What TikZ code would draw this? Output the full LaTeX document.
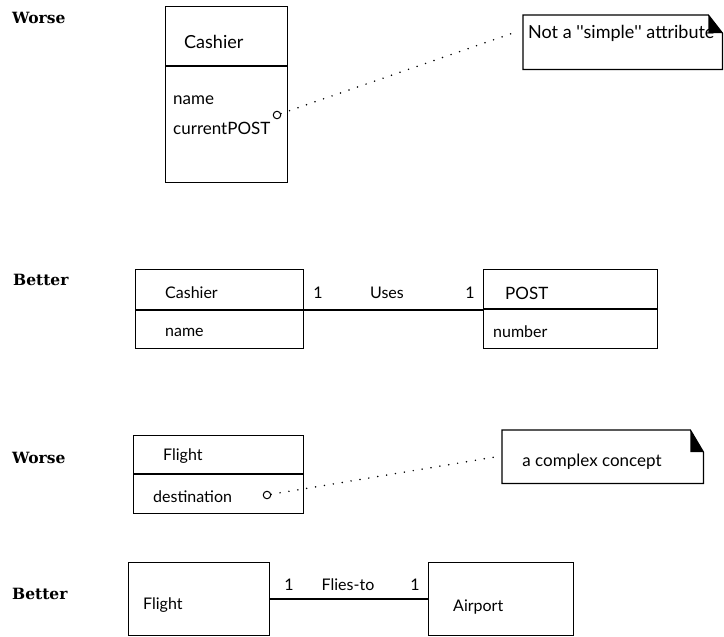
\documentclass[tikz,border=0pt]{standalone}
\usepackage{fontspec}
\setmainfont{Lato}
\newfontfamily\rawlato{Lato}[Ligatures=TeXOff]
\newfontfamily\lblfont{DejaVu Serif}
\usetikzlibrary{calc}
\begin{document}
\begin{tikzpicture}[x=1pt,y=-1pt,
  box/.style={draw, line width=1.2pt, inner sep=0pt, rectangle},
  divline/.style={line width=1.2pt},
  txt/.style={inner sep=0pt, anchor=west, font=\fontsize{16}{18}\selectfont},
  bigtxt/.style={txt, font=\fontsize{17}{19}\selectfont},
  lbl/.style={inner sep=0pt, anchor=west, font=\lblfont\bfseries\fontsize{15.5}{17}\selectfont},
  attrcirc/.style={circle, draw, line width=1pt, minimum size=7.5pt, inner sep=0pt},
  dotline/.style={line width=1.7pt, line cap=round, dash pattern=on 0pt off 9pt},
  assoc/.style={line width=1.2pt},
  notebox/.style={draw=none, inner sep=0pt, anchor=north west}
]
\useasboundingbox (0,0) rectangle (724,637);

% ---------- section 1: Worse ----------
\node[lbl] (l1) at (12,18) {Worse};
\node[box, minimum width=122pt, minimum height=176pt, anchor=north west] (c1) at (165,6) {};
\draw[divline] ($(c1.north west)+(0,60)$) -- ($(c1.north east)+(0,60)$);
\node[txt, font=\fontsize{18}{20}\selectfont] (c1n) at (184,42) {Cashier};
\node[bigtxt] (c1a) at (173,100) {name};
\node[bigtxt] (c1b) at (173,128) {currentPOST};
\node[attrcirc] (o1) at (277,115) {};

\node[notebox, minimum width=199pt, minimum height=54pt] (n1) at (523,15) {};
\draw[line width=1.2pt, fill=white] (n1.north west) -- ($(n1.north east)+(-14,0)$) -- ($(n1.north east)+(0,18)$) -- (n1.south east) -- (n1.south west) -- cycle;
\node[txt, font=\fontsize{18}{20}\selectfont] (n1t) at (528,33) {Not a {\rawlato ''}simple{\rawlato ''} attribute};
\fill ($(n1.north east)+(-14,0)$) -- ($(n1.north east)+(0,18)$) -- ($(n1.north east)+(-14,18)$) -- cycle;
\coordinate (e1) at (516,32);
\draw[dotline] (o1) -- (e1);

% ---------- section 2: Better ----------
\node[lbl] (l2) at (13,280) {Better};
\node[box, minimum width=168pt, minimum height=79pt, anchor=north west] (c2) at (135,269) {};
\draw[divline] ($(c2.north west)+(0,41)$) -- ($(c2.north east)+(0,41)$);
\node[txt] (c2n) at (165,293) {Cashier};
\node[txt] (c2a) at (165,332) {name};

\node[box, minimum width=174pt, minimum height=79pt, anchor=north west] (p2) at (483,269) {};
\draw[divline] ($(p2.north west)+(0,40)$) -- ($(p2.north east)+(0,40)$);
\node[txt, font=\fontsize{17}{19}\selectfont] (p2n) at (505,293) {POST};
\node[txt] (p2a) at (493,332) {number};

\draw[assoc] ($(c2.north east)+(0,41)$) coordinate (a2s) -- ($(p2.north west)+(0,41)$) coordinate (a2e);
\node[txt, anchor=center] (m2a) at (318,293) {1};
\node[txt, anchor=center] (u2) at (387,293) {Uses};
\node[txt, anchor=center] (m2b) at (470,293) {1};

% ---------- section 3: Worse ----------
\node[lbl] (l3) at (12,458) {Worse};
\node[box, minimum width=170pt, minimum height=78pt, anchor=north west] (f3) at (133,435) {};
\draw[divline] ($(f3.north west)+(0,39)$) -- ($(f3.north east)+(0,39)$);
\node[txt] (f3n) at (163,456) {Flight};
\node[txt] (f3a) at (153,497) {destination};
\node[attrcirc] (o3) at (267,495) {};

\node[notebox, minimum width=201pt, minimum height=53pt] (n3) at (502,430) {};
\draw[line width=1.2pt, fill=white] (n3.north west) -- ($(n3.north east)+(-13,0)$) -- ($(n3.north east)+(0,22)$) -- (n3.south east) -- (n3.south west) -- cycle;
\fill ($(n3.north east)+(-13,0)$) -- ($(n3.north east)+(0,22)$) -- ($(n3.north east)+(-13,22)$) -- cycle;
\node[bigtxt, anchor=center] (n3t) at (592,462) {a complex concept};
\coordinate (e3) at (495,457);
\draw[dotline] (o3) -- (e3);

% ---------- section 4: Better ----------
\node[lbl] (l4) at (12,594) {Better};
\node[box, minimum width=141pt, minimum height=73pt, anchor=north west] (f4) at (128,562) {};
\node[txt] (f4n) at (143,605) {Flight};
\node[box, minimum width=145pt, minimum height=73pt, anchor=north west] (ap4) at (428,562) {};
\node[txt] (ap4n) at (453,607) {Airport};
\draw[assoc] ($(f4.north east)+(0,37)$) coordinate (a4s) -- ($(ap4.north west)+(0,37)$) coordinate (a4e);
\node[txt, anchor=center] (m4a) at (289,585) {1};
\node[txt, anchor=center] (ft4) at (348,585) {Flies-to};
\node[txt, anchor=center] (m4b) at (415,585) {1};
\end{tikzpicture}
\end{document}
